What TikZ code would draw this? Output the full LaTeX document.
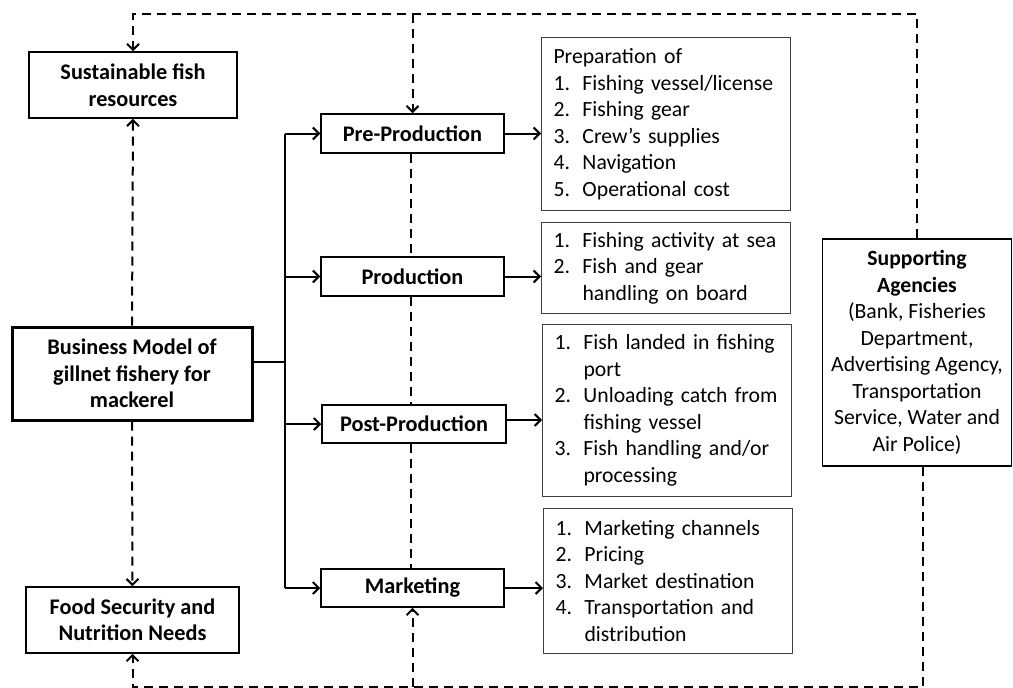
\documentclass[tikz,border=0pt]{standalone}
\usepackage{fontspec}
\setmainfont{Carlito}
\usetikzlibrary{arrows.meta}
\newcommand{\itm}[1]{\makebox[29pt][l]{#1}}
\begin{document}
\begin{tikzpicture}[x=1pt,y=-1pt,
  txt/.style={font=\fontsize{21.7}{26.5}\selectfont},
  bbox/.style={draw, line width=1.5pt, font=\fontsize{22.3}{26.5}\selectfont\bfseries, align=center, inner sep=0pt},
  lbox/.style={draw=black!75, line width=1pt, font=\fontsize{21.7}{26.5}\selectfont, align=left, text width=225pt, inner xsep=12pt, inner ysep=0pt, anchor=north west},
  conn/.style={line width=2pt},
  dsh/.style={line width=2pt, dash pattern=on 9pt off 6pt},
  >={Straight Barb[length=6pt,width=12pt]}]
\useasboundingbox (0,0) rectangle (1013,688);
% left column
\node[bbox, minimum width=208pt, minimum height=66pt] (sus) at (133,85) {Sustainable fish\\resources};
\node[bbox, line width=3pt, minimum width=240pt, minimum height=93pt] (bm) at (132,373.5) {Business Model of\\gillnet fishery for\\mackerel};
\node[bbox, minimum width=213pt, minimum height=66pt] (food) at (132.5,620) {Food Security and\\Nutrition Needs};
% phases
\node[bbox, minimum width=183pt, minimum height=39pt] (pre) at (412.5,133.5) {Pre-Production};
\node[bbox, minimum width=183pt, minimum height=39pt] (prod) at (412.5,276.5) {Production};
\node[bbox, minimum width=184pt, minimum height=38pt] (post) at (414,424) {Post-Production};
\node[bbox, minimum width=183pt, minimum height=38pt] (mkt) at (412.5,588) {Marketing};
% lists
\node[lbox, minimum height=173pt] (prep) at (541,37) {Preparation of\\\itm{1.}Fishing vessel/license\\\itm{2.}Fishing gear\\\itm{3.}Crew’s supplies\\\itm{4.}Navigation\\\itm{5.}Operational cost};
\node[lbox, minimum height=91pt] (prodl) at (541,222) {\itm{1.}Fishing activity at sea\\\itm{2.}Fish and gear\\\itm{}handling on board};
\node[lbox, minimum height=172pt] (postl) at (542,324) {\itm{1.}Fish landed in fishing\\\itm{}port\\\itm{2.}Unloading catch from\\\itm{}fishing vessel\\\itm{3.}Fish handling and/or\\\itm{}processing};
\node[lbox, minimum height=145pt] (mktl) at (543,508) {\itm{1.}Marketing channels\\\itm{2.}Pricing\\\itm{3.}Market destination\\\itm{4.}Transportation and\\\itm{}distribution};
% supporting
\node[draw, line width=1.5pt, txt, align=center, inner sep=0pt, minimum width=189pt, minimum height=227pt] (sup) at (917,352.5) {\textbf{Supporting}\\\textbf{Agencies}\\(Bank, Fisheries\\Department,\\Advertising Agency,\\Transportation\\Service, Water and\\Air Police)};
% solid connectors
\coordinate (j) at (285,362);
\draw[conn] ([yshift=11.5pt]bm.east) -- (j);
\draw[conn] (pre.west -| j) -- (mkt.west -| j);
\draw[conn,->] (pre.west -| j) -- (pre.west);
\draw[conn,->] (prod.west -| j) -- (prod.west);
\draw[conn,->] (post.west -| j) -- (post.west);
\draw[conn,->] (mkt.west -| j) -- (mkt.west);
\draw[conn,->] (pre.east) -- (pre.east -| prep.west);
\draw[conn,->] (prod.east) -- (prod.east -| prodl.west);
\draw[conn,->] ([yshift=4pt]post.east) -- ([yshift=4pt]post.east -| postl.west);
\draw[conn,->] (mkt.east) -- (mkt.east -| mktl.west);
% dashed connectors
\coordinate (topy) at (0,14);
\coordinate (boty) at (0,687);
\draw[dsh,->] (sup.north) -- (sup.north |- topy) -- (sus.north |- topy) -- (sus.north);
\draw[dsh,->] (pre.north |- topy) -- (pre.north);
\draw[dsh,->] (bm.north) -- (sus.south);
\draw[dsh,->] (bm.south) -- (food.north);
\draw[dsh] ([xshift=-2pt]pre.south) -- ([xshift=-2pt]prod.north);
\draw[dsh] ([xshift=-2pt]prod.south) -- ([xshift=-2pt]prod.south |- post.north);
\draw[dsh] ([xshift=-2pt]prod.south |- post.south) -- ([xshift=-2pt]mkt.north);
\draw[dsh,->] ([xshift=6pt]sup.south) -- ([xshift=6pt]sup.south |- boty) -- (food.south |- boty) -- (food.south);
\draw[dsh,->] (mkt.south |- boty) -- (mkt.south);
\end{tikzpicture}
\end{document}
